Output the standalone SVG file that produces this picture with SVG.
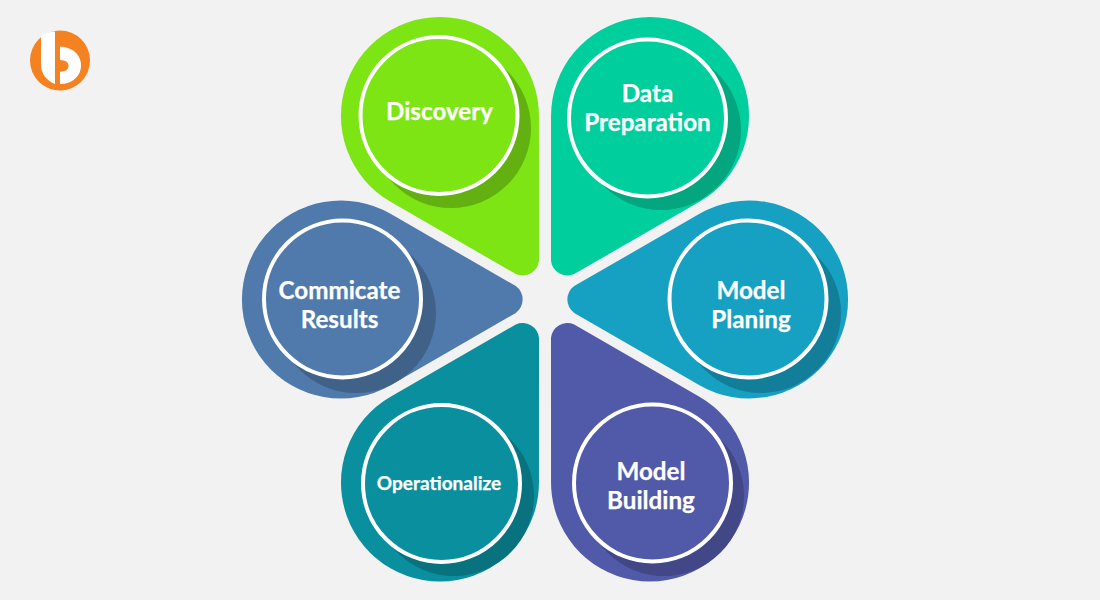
<svg xmlns="http://www.w3.org/2000/svg" width="1100" height="600" viewBox="0 0 1100 600">
<style>
.ring{stroke:#fff;stroke-width:4}
text{font-family:Lato,"Open Sans","Liberation Sans",sans-serif;font-weight:700;fill:#fff;stroke:#fff;stroke-width:.25;text-anchor:middle;font-size:24.2px}
</style>
<defs>
<path id="petal" d="M49.500 -85.700L174.800 -13.400A16.500 16.500 0 0 1 174.800 13.400L49.500 85.700A99 99 0 1 1 49.500 -85.700Z"/>
</defs>
<rect width="1100" height="600" fill="#f2f2f2"/>
<g id="logo">
<circle cx="60" cy="60.500" r="30" fill="#f58220"/>
<path d="M55 31.500C50 31.500 44 33.500 41 36V65C41 74 47 81 55 84Z" fill="#fff"/>
<path d="M60 46.700V84C72 84 81 76 81 65.400C81 54.500 72 46.700 60 46.700Z" fill="#fff"/>
<path d="M60 60Q68.500 60 68.500 66Q68.500 71.700 60 71.700Z" fill="#f58220"/>
</g>
<g id="connectors"></g>
<g id="discovery">
<use href="#petal" transform="translate(440 116) rotate(60)" fill="#7ce513"/>
<circle cx="451" cy="128" r="80" fill="#62b111"/>
<circle class="ring" cx="439" cy="115.500" r="78.500" fill="#7ce513"/>
<text x="439.500" y="120">Discovery</text>
</g>
<g id="data-preparation">
<use href="#petal" transform="translate(650 116) rotate(120)" fill="#00cf9d"/>
<circle cx="661" cy="130" r="80" fill="#03a67e"/>
<circle class="ring" cx="647.500" cy="118" r="78.500" fill="#00cf9d"/>
<text x="647.500" y="102">Data</text>
<text x="647.500" y="131">Preparation</text>
</g>
<g id="model-planing">
<use href="#petal" transform="translate(749 299.500) rotate(180)" fill="#16a1c3"/>
<circle cx="761" cy="313" r="80" fill="#127e9a"/>
<circle class="ring" cx="748" cy="299" r="78.500" fill="#16a1c3"/>
<text x="751" y="299">Model</text>
<text x="751" y="328">Planing</text>
</g>
<g id="model-building">
<use href="#petal" transform="translate(650 482.500) rotate(240)" fill="#5159a9"/>
<circle cx="664" cy="496" r="80" fill="#414787"/>
<circle class="ring" cx="652.500" cy="483" r="78.500" fill="#5159a9"/>
<text x="651" y="480">Model</text>
<text x="651" y="509">Building</text>
</g>
<g id="operationalize">
<use href="#petal" transform="translate(440 482.500) rotate(300)" fill="#0a8f9f"/>
<circle cx="454" cy="496" r="80" fill="#08727f"/>
<circle class="ring" cx="441.500" cy="483.500" r="78.500" fill="#0a8f9f"/>
<text x="439" y="490" style="font-size:19px">Operationalize</text>
</g>
<g id="commicate-results">
<use href="#petal" transform="translate(341 299.500)" fill="#4f7aab"/>
<circle cx="356" cy="313" r="80" fill="#406289"/>
<circle class="ring" cx="342.500" cy="299" r="78.500" fill="#4f7aab"/>
<text x="339.500" y="299">Commicate</text>
<text x="339.500" y="328">Results</text>
</g>
</svg>
